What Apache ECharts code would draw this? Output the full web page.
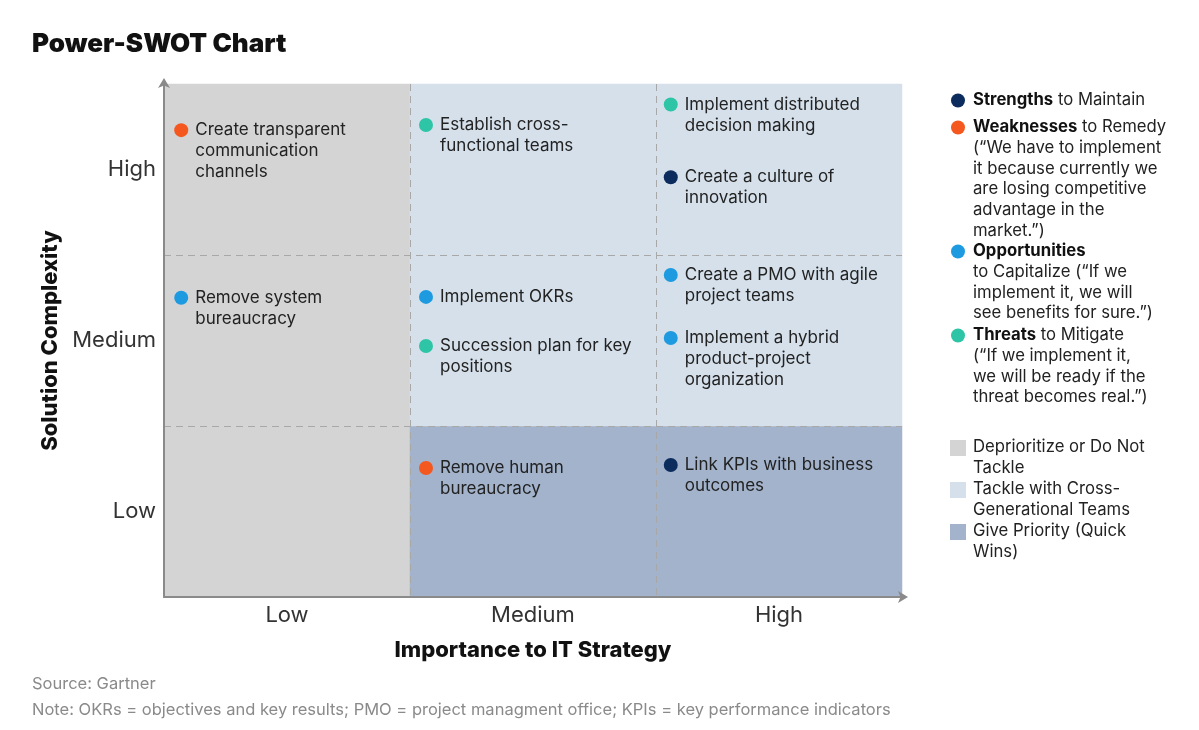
<!DOCTYPE html>
<html><head><meta charset="utf-8">
<script src="https://cdn.jsdelivr.net/npm/echarts@6/dist/echarts.min.js"></script>
<style>html,body{margin:0;padding:0;background:#fff}#c{width:1199px;height:730px}</style>
</head><body><div id="c"></div>
<script>
// ---- data ----
const xCategories = ['Low', 'Medium', 'High'];
const yCategories = ['Low', 'Medium', 'High'];
// zone of each cell, rows by complexity, columns by importance (0 = deprioritize, 1 = cross-generational, 2 = priority)
const zoneRowLow = [0, 2, 2];
const zoneRowMedium = [0, 1, 1];
const zoneRowHigh = [0, 1, 1];
const zoneNames = ['Deprioritize or Do Not\nTackle', 'Tackle with Cross-\nGenerational Teams', 'Give Priority (Quick\nWins)'];
const zoneColors = ['#d4d4d4', '#d5e0eb', '#a2b3cb'];

const typeNames = ['Strengths', 'Weaknesses', 'Opportunities', 'Threats'];
const typeColors = ['#0c2c5e', '#f4581f', '#1e9be0', '#2ec5a7'];
const typeLegendText = [
  '{b|Strengths} to Maintain',
  '{b|Weaknesses} to Remedy\n(\u201cWe have to implement\nit because currently we\nare losing competitive\nadvantage in the\nmarket.\u201d)',
  '{b|Opportunities}\nto Capitalize (\u201cIf we\nimplement it, we will\nsee benefits for sure.\u201d)',
  '{b|Threats} to Mitigate\n(\u201cIf we implement it,\nwe will be ready if the\nthreat becomes real.\u201d)'
];

const pointLabels = [
  'Create transparent\ncommunication\nchannels',
  'Establish cross-\nfunctional teams',
  'Implement distributed\ndecision making',
  'Create a culture of\ninnovation',
  'Remove system\nbureaucracy',
  'Implement OKRs',
  'Succession plan for key\npositions',
  'Create a PMO with agile\nproject teams',
  'Implement a hybrid\nproduct-project\norganization',
  'Remove human\nbureaucracy',
  'Link KPIs with business\noutcomes'
];
const pointX = [0.07, 1.065, 2.06, 2.06, 0.07, 1.065, 1.065, 2.06, 2.06, 1.065, 2.06];
const pointY = [2.73, 2.76, 2.88, 2.455, 1.75, 1.755, 1.468, 1.883, 1.515, 0.754, 0.772];
const pointType = [1, 3, 3, 0, 2, 2, 3, 2, 2, 1, 0];

const titleText = 'Power-SWOT Chart';
const xAxisName = 'Importance to IT Strategy';
const yAxisName = 'Solution Complexity';
const sourceText = 'Source: Gartner';
const noteText = 'Note: OKRs = objectives and key results; PMO = project managment office; KPIs = key performance indicators';

// ---- build ----
const FONT = 'Inter, "Noto Sans", sans-serif';
const zoneRows = [zoneRowLow, zoneRowMedium, zoneRowHigh];
const heatData = [];
zoneRows.forEach((row, yi) => row.forEach((z, xi) => heatData.push([xi, yi, z])));

const scatterSeries = typeNames.map((name, t) => ({
  name: name,
  type: 'scatter',
  xAxisIndex: 1,
  yAxisIndex: 1,
  z: 5,
  symbolSize: 14,
  itemStyle: { color: typeColors[t], opacity: 1 },
  label: {
    show: true,
    position: 'right',
    distance: 7,
    verticalAlign: 'top',
    offset: [0, -10.5],
    formatter: p => p.name,
    color: '#222',
    fontSize: 17,
    lineHeight: 21,
    fontFamily: FONT
  },
  emphasis: { disabled: true },
  data: pointLabels.map((lab, i) => ({ name: lab, value: [pointX[i], pointY[i]], t: pointType[i] }))
    .filter(d => d.t === t)
    .map(d => ({ name: d.name, value: d.value }))
}));

const legendX = 950;
const LFS = 16.7;
const typeLegendTops = [90, 117, 241, 325];
const zoneLegendTops = [437, 479, 521];
const graphics = [];
typeNames.forEach((n, t) => {
  graphics.push({ type: 'circle', shape: { cx: legendX + 8, cy: typeLegendTops[t] + 10.5, r: 7 }, style: { fill: typeColors[t] } });
  graphics.push({ type: 'text', x: legendX + 23, y: typeLegendTops[t], style: {
    text: typeLegendText[t], fill: '#222', font: LFS + 'px ' + FONT, lineHeight: 20.7,
    rich: { b: { fontWeight: 'bold', fontSize: LFS, fontFamily: FONT, lineHeight: 20.7, fill: '#111' } }
  } });
});
zoneNames.forEach((n, z) => {
  graphics.push({ type: 'rect', shape: { x: legendX, y: zoneLegendTops[z] + 3, width: 16, height: 16 }, style: { fill: zoneColors[z] } });
  graphics.push({ type: 'text', x: legendX + 23, y: zoneLegendTops[z], style: { text: n, fill: '#222', font: LFS + 'px ' + FONT, lineHeight: 20.7 } });
});
graphics.push({ type: 'text', left: 32, top: 676, style: { text: sourceText, fill: '#8a8a8a', font: '16.5px ' + FONT } });
graphics.push({ type: 'text', left: 32, top: 702, style: { text: noteText, fill: '#8a8a8a', font: '16.5px ' + FONT } });

const chart = echarts.init(document.getElementById('c'));
chart.setOption({
  backgroundColor: '#fff',
  animation: false,
  title: { text: titleText, left: 27, top: 26, textStyle: { fontSize: 26, fontWeight: 900, color: '#111', fontFamily: FONT } },
  grid: { left: 164, top: 84, right: 297, bottom: 133 },
  visualMap: {
    type: 'piecewise', show: false, seriesIndex: 0, dimension: 2,
    pieces: zoneColors.map((c, i) => ({ value: i, color: c }))
  },
  xAxis: [
    {
      type: 'category', data: xCategories, boundaryGap: true, position: 'bottom', z: 6,
      axisLine: { show: true, lineStyle: { color: '#8a8a8a', width: 2 }, symbol: ['none', 'arrow'], symbolSize: [9, 10], symbolOffset: [0, 6] },
      axisTick: { show: false }, splitLine: { show: false },
      axisLabel: { fontSize: 22, color: '#333', margin: 7, fontFamily: FONT },
      name: xAxisName, nameLocation: 'middle', nameGap: 42,
      nameTextStyle: { fontSize: 22, fontWeight: 800, color: '#111', fontFamily: FONT }
    },
    {
      type: 'value', min: 0, max: 3, interval: 1, position: 'bottom', z: 3,
      axisLine: { show: false }, axisTick: { show: false }, axisLabel: { show: false },
      splitLine: { show: true, showMinLine: false, showMaxLine: false, lineStyle: { type: [7, 5], color: '#a8a8a8', width: 1 } }
    }
  ],
  yAxis: [
    {
      type: 'category', data: yCategories, boundaryGap: true, position: 'left', z: 6,
      axisLine: { show: true, lineStyle: { color: '#8a8a8a', width: 2 }, symbol: ['none', 'arrow'], symbolSize: [9, 10], symbolOffset: [0, 6] },
      axisTick: { show: false }, splitLine: { show: false },
      axisLabel: { fontSize: 22, color: '#333', margin: 8, fontFamily: FONT },
      name: yAxisName, nameLocation: 'middle', nameGap: 103, nameRotate: 90,
      nameTextStyle: { fontSize: 22, fontWeight: 800, color: '#111', fontFamily: FONT }
    },
    {
      type: 'value', min: 0, max: 3, interval: 1, position: 'left', z: 3,
      axisLine: { show: false }, axisTick: { show: false }, axisLabel: { show: false },
      splitLine: { show: true, showMinLine: false, showMaxLine: false, lineStyle: { type: [7, 5], color: '#a8a8a8', width: 1 } }
    }
  ],
  graphic: graphics,
  series: [
    {
      type: 'heatmap', xAxisIndex: 0, yAxisIndex: 0, data: heatData, z: 1, silent: true,
      itemStyle: { borderWidth: 0 }, emphasis: { disabled: true }, label: { show: false }
    }
  ].concat(scatterSeries)
});
</script></body></html>
